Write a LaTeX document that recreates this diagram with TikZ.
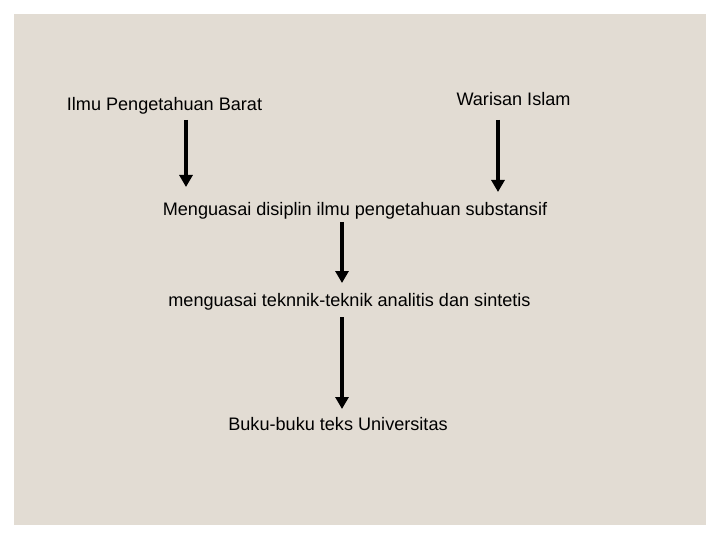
\documentclass[tikz,border=0pt]{standalone}
\usepackage{fontspec}
\setmainfont{Liberation Sans}
\usetikzlibrary{arrows.meta}
\definecolor{bgbeige}{RGB}{226,220,211}
\tikzset{
  lbl/.style={anchor=base, inner sep=0pt, font=\fontsize{18.1}{22}\selectfont},
  arr/.style={line width=4pt, -{Triangle[width=13pt,length=12pt]}}
}
\begin{document}
\begin{tikzpicture}[x=1pt,y=-1pt]
\useasboundingbox (0,0) rectangle (720,540);
\fill[bgbeige] (14,14) rectangle (706,525);
\node[lbl] (barat) at (164.5,111) {Ilmu Pengetahuan Barat};
\node[lbl] (islam) at (513.5,106) {Warisan Islam};
\node[lbl] (disiplin) at (355,215.5) {Menguasai disiplin ilmu pengetahuan substansif};
\node[lbl] (teknik) at (349.5,306.5) {menguasai teknnik-teknik analitis dan sintetis};
\node[lbl] (buku) at (338,430) {Buku-buku teks Universitas};
\coordinate (a1s) at (186,120);
\coordinate (a1e) at (186,187);
\coordinate (a2s) at (498,120);
\coordinate (a2e) at (498,192);
\coordinate (a3s) at (342,222);
\coordinate (a3e) at (342,283);
\coordinate (a4s) at (342,317);
\coordinate (a4e) at (342,409);
\draw[arr] (a1s) -- (a1e);
\draw[arr] (a2s) -- (a2e);
\draw[arr] (a3s) -- (a3e);
\draw[arr] (a4s) -- (a4e);
\end{tikzpicture}
\end{document}
